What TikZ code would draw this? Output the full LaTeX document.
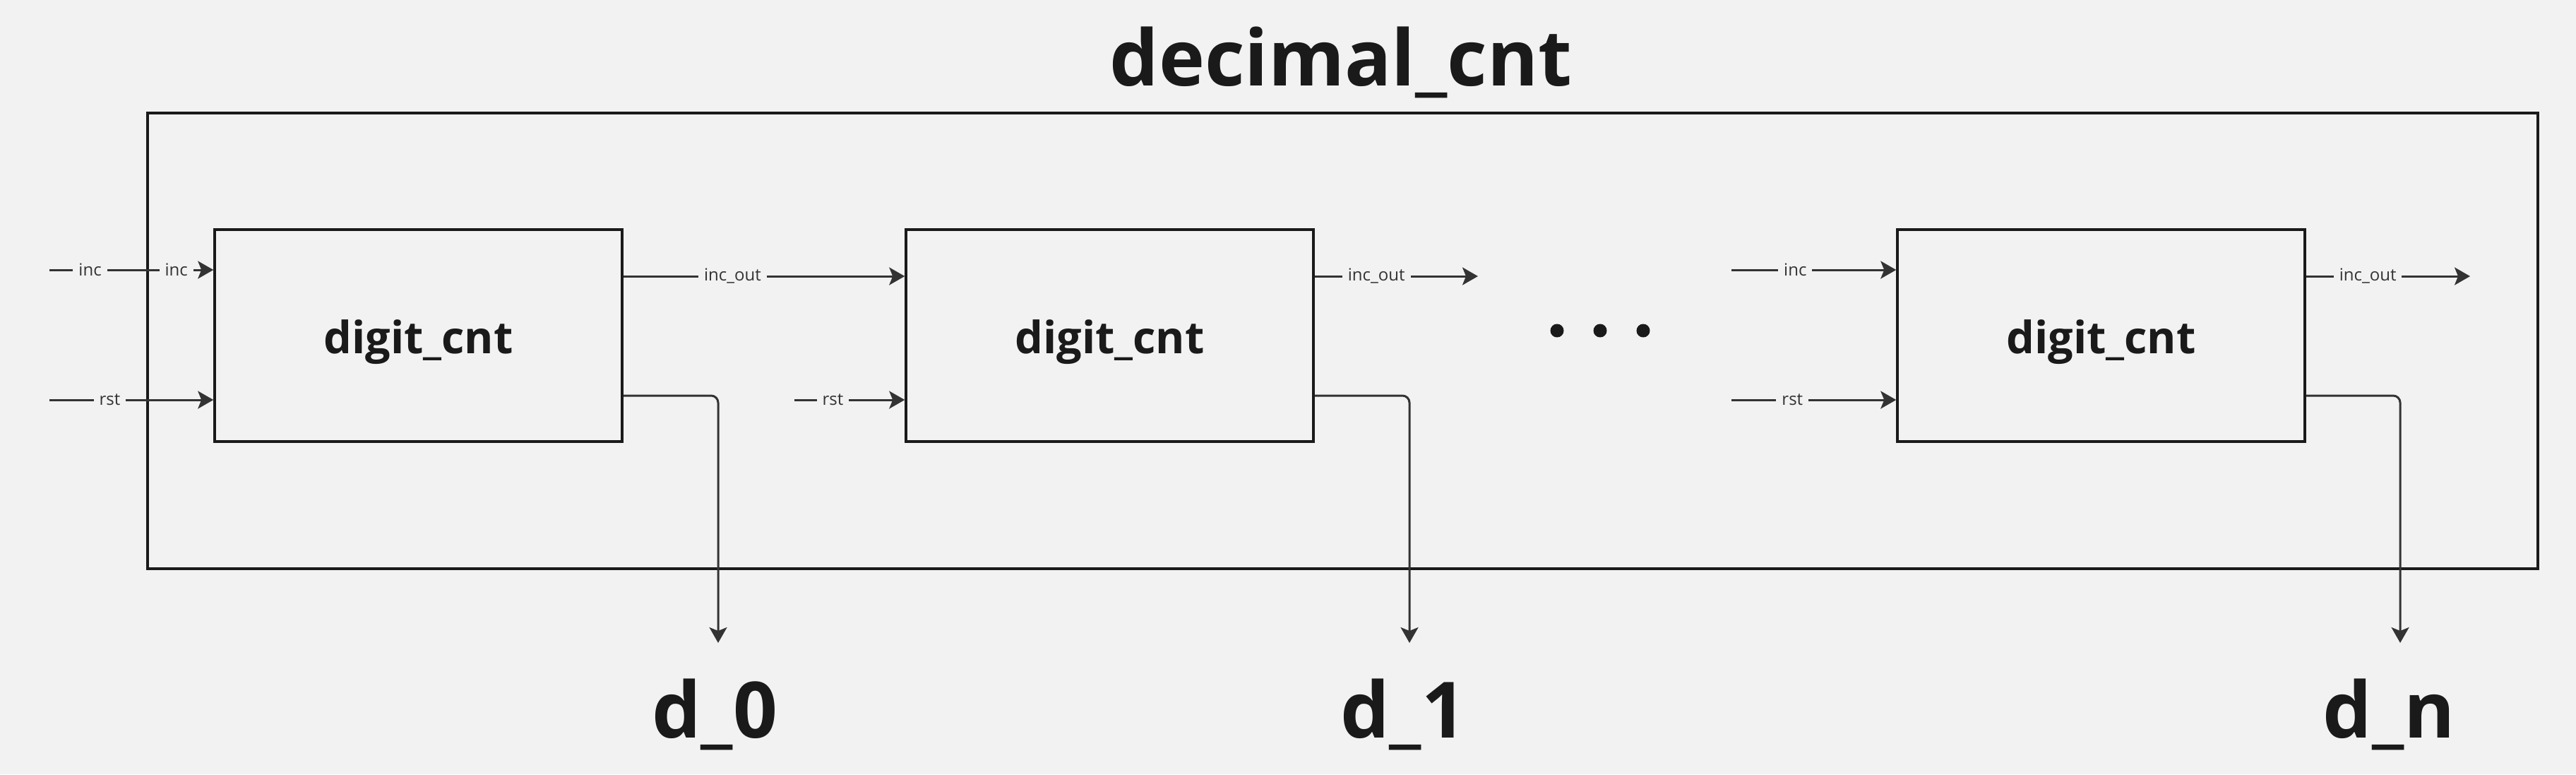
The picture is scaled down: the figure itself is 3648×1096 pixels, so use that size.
\documentclass[tikz,border=0pt]{standalone}
\usepackage{fontspec}
\setmainfont{Open Sans}
\usetikzlibrary{arrows.meta}
\definecolor{bg}{HTML}{F2F2F2}
\definecolor{ink}{HTML}{1A1A1A}
\definecolor{wire}{HTML}{333333}
\tikzset{every picture/.style={line width=0.6pt}}
\tikzset{
  cntbox/.style={draw=ink,line width=0.7pt,minimum width=115.4pt,minimum height=60pt,inner sep=0pt,
    text height=10pt,text depth=0pt,text=ink,font=\bfseries\fontsize{12.6}{15}\selectfont},
  conn/.style={draw=wire,line width=0.6pt,-{Stealth[length=4.4pt,width=5pt,inset=1pt]}},
  lbl/.style={fill=bg,text=wire,inner xsep=1.6pt,inner ysep=0.5pt,font=\fontsize{4.8}{5.5}\selectfont},
  bigtxt/.style={text=ink,inner sep=0pt,anchor=base,font=\bfseries\fontsize{22}{26}\selectfont},
}

\begin{document}
\begin{tikzpicture}[x=0.2pt,y=0.2pt,yscale=-1,xscale=1]
%set diagram size: 3648 x 1096
\path[fill=bg,use as bounding box] (0,0) rectangle (3648,1096);

%Shape: Rectangle (outer module)
\draw[draw=ink,line width=0.65pt] (209,160) rectangle (3594,805);
% Text Node
\node[bigtxt] (ttl) at (1899,121) {decimal\_cnt};

%Shape: Rectangle (counters)
\node[cntbox] (cnt0) at (592.5,475) {digit\_cnt};
\node[cntbox] (cnt1) at (1571.5,475) {digit\_cnt};
\node[cntbox] (cntn) at (2975.5,475) {digit\_cnt};

%port heights
\coordinate (yinc) at (0,382);
\coordinate (yout) at (0,391);
\coordinate (yrst) at (0,566);
\coordinate (ydig) at (0,560);

%free ends
\coordinate (inc0) at (70,382);
\coordinate (rst0) at (70,566);
\coordinate (rst1) at (1125,566);
\coordinate (out1) at (2093,391);
\coordinate (incn) at (2452,382);
\coordinate (rstn) at (2452,566);
\coordinate (outn) at (3498,391);
\coordinate (dig0) at (1017,910);
\coordinate (dig1) at (1996,910);
\coordinate (dign) at (3399,910);

%Straight Lines (first counter)
\draw[conn] (inc0) -- (inc0 -| cnt0.west) node[lbl,pos=0.248] (l0a) {inc} node[lbl,pos=0.774] (l0b) {inc};
\draw[conn] (rst0) -- (rst0 -| cnt0.west) node[lbl,pos=0.368] (l0c) {rst};
\draw[conn] (cnt0.east |- yout) -- (cnt1.west |- yout) node[lbl,pos=0.388] (l0d) {inc\_out};
\draw[conn,rounded corners=2pt] (cnt0.east |- ydig) -| (dig0);

%Straight Lines (second counter)
\draw[conn] (rst1) -- (rst1 -| cnt1.west) node[lbl,pos=0.348] (l1c) {rst};
\draw[conn] (cnt1.east |- yout) -- (out1) node[lbl,pos=0.378] (l1d) {inc\_out};
\draw[conn,rounded corners=2pt] (cnt1.east |- ydig) -| (dig1);

%Shape: Circle (dots)
\fill[ink] (2205,468) circle[radius=9.5];
\fill[ink] (2266,468) circle[radius=9.5];
\fill[ink] (2327,468) circle[radius=9.5];

%Straight Lines (last counter)
\draw[conn] (incn) -- (incn -| cntn.west) node[lbl,pos=0.387] (lna) {inc};
\draw[conn] (rstn) -- (rstn -| cntn.west) node[lbl,pos=0.37] (lnc) {rst};
\draw[conn] (cntn.east |- yout) -- (outn) node[lbl,pos=0.376] (lnd) {inc\_out};
\draw[conn,rounded corners=2pt] (cntn.east |- ydig) -| (dign);

% Text Node
\node[bigtxt] (d0) at (1012,1044) {d\_0};
% Text Node
\node[bigtxt] (d1) at (1987,1044) {d\_1};
% Text Node
\node[bigtxt] (dn) at (3383,1044) {d\_n};

\end{tikzpicture}
\end{document}
